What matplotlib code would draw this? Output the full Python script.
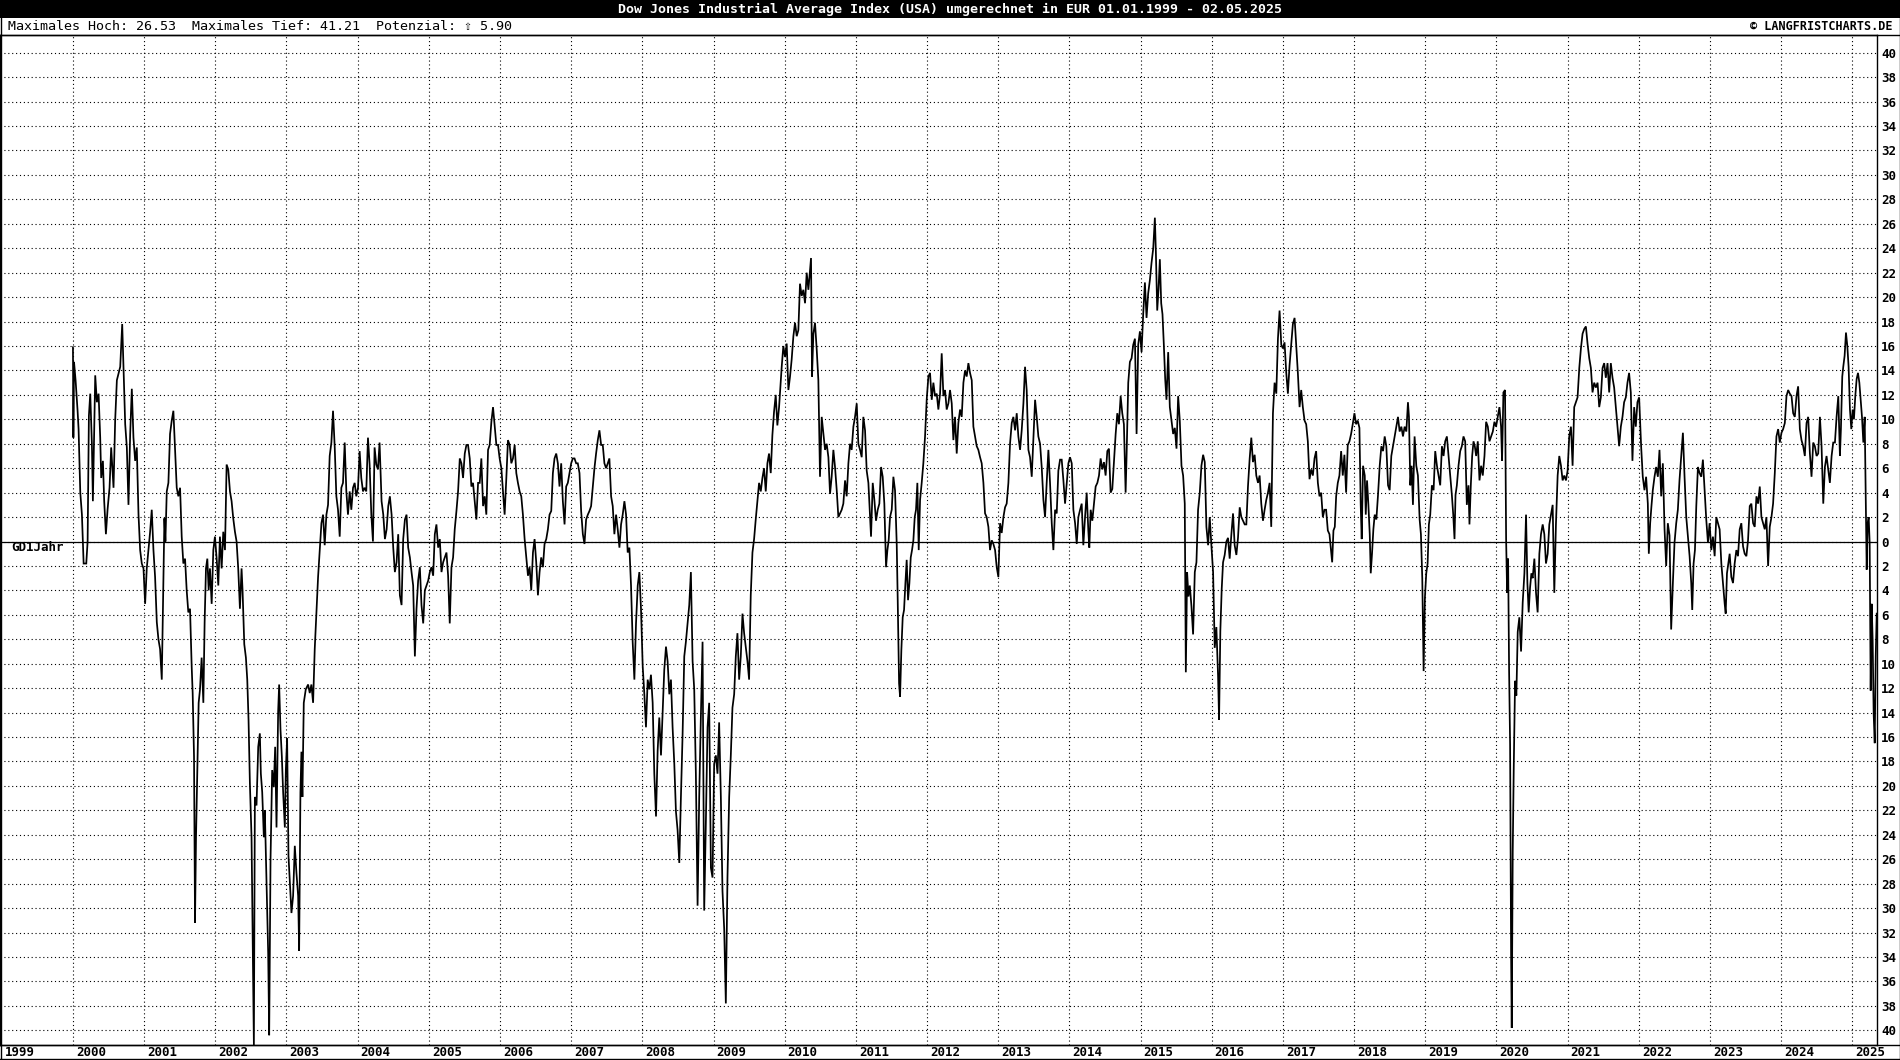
import numpy as np
import matplotlib
matplotlib.use('Agg')
import matplotlib.pyplot as plt
import matplotlib.transforms as mtransforms
from matplotlib.patches import Rectangle
from matplotlib.lines import Line2D

title = 'Dow Jones Industrial Average Index (USA) umgerechnet in EUR 01.01.1999 - 02.05.2025'
subtitle = 'Maximales Hoch: 26.53  Maximales Tief: 41.21  Potenzial: \u21e7 5.90'
copyright_txt = '\u00a9 LANGFRISTCHARTS.DE'
line_label = 'GD1Jahr'

years = list(range(1999, 2026))
y_ticks = list(range(-40, 41, 2))

# Abstand zum GD 1 Jahr in % (Jahr als Dezimalzahl, Wert)
gd_2000_01 = [
    (2000.000, 15.9), (2000.006, 8.5), (2000.015, 14.7), (2000.037, 13.2), (2000.065, 10.7),
    (2000.079, 9.2), (2000.103, 4.0), (2000.126, 2.2), (2000.150, -1.8), (2000.187, -1.8),
    (2000.206, 0.0), (2000.224, 10.3), (2000.243, 12.1), (2000.266, 8.0), (2000.280, 3.3),
    (2000.313, 13.6), (2000.336, 11.4), (2000.360, 12.1), (2000.383, 8.5), (2000.397, 5.2),
    (2000.421, 6.6), (2000.439, 3.3), (2000.463, 0.6), (2000.486, 2.6), (2000.514, 4.4),
    (2000.537, 7.7), (2000.570, 4.4), (2000.593, 9.9), (2000.617, 13.2), (2000.664, 14.3),
    (2000.692, 17.8), (2000.710, 14.3), (2000.734, 9.6), (2000.757, 7.7), (2000.780, 3.0),
    (2000.804, 8.8), (2000.827, 12.5), (2000.850, 8.5), (2000.874, 6.6), (2000.897, 7.7),
    (2000.921, 2.2), (2000.944, -0.7), (2000.967, -1.8), (2000.991, -2.2), (2001.014, -5.1),
    (2001.037, -2.2), (2001.061, -0.7), (2001.084, 0.8), (2001.107, 2.6), (2001.131, -0.7),
    (2001.154, -2.9), (2001.178, -6.6), (2001.201, -8.0), (2001.224, -8.8), (2001.248, -11.3),
    (2001.271, -2.9), (2001.285, 1.9), (2001.299, 0.0), (2001.318, 4.1), (2001.341, 4.8),
    (2001.364, 8.8), (2001.388, 9.9), (2001.411, 10.7), (2001.435, 7.4), (2001.458, 4.4),
    (2001.481, 3.7), (2001.505, 4.4), (2001.528, 0.4), (2001.551, -1.8), (2001.575, -1.4),
    (2001.598, -4.0), (2001.621, -5.8), (2001.645, -5.5), (2001.668, -10.2), (2001.682, -12.4),
    (2001.701, -17.6), (2001.715, -31.2), (2001.729, -24.2), (2001.748, -18.7), (2001.766, -13.2),
    (2001.785, -12.1), (2001.808, -9.5), (2001.832, -13.2), (2001.850, -6.6), (2001.869, -2.2),
    (2001.888, -1.4), (2001.907, -4.0), (2001.925, -2.2), (2001.949, -5.1), (2001.972, -0.7),
    (2001.995, 0.4),
]

gd_2002_03 = [
    (2002.019, -1.4), (2002.042, -3.6), (2002.065, 0.4), (2002.089, -2.2), (2002.112, 0.8),
    (2002.136, -0.7), (2002.159, 6.3), (2002.182, 5.9), (2002.206, 4.1), (2002.229, 3.3),
    (2002.252, 1.9), (2002.276, 0.8), (2002.299, 0.0), (2002.322, -2.2), (2002.346, -5.5),
    (2002.369, -2.2), (2002.383, -4.0), (2002.407, -8.4), (2002.430, -9.5), (2002.449, -11.3),
    (2002.467, -14.6), (2002.486, -19.8), (2002.509, -24.2), (2002.533, -37.0), (2002.542, -41.2),
    (2002.556, -20.9), (2002.579, -21.6), (2002.603, -16.8), (2002.626, -15.7), (2002.640, -19.0),
    (2002.659, -20.5), (2002.682, -24.2), (2002.696, -22.0), (2002.720, -27.9), (2002.743, -33.7),
    (2002.757, -40.4), (2002.776, -26.0), (2002.799, -18.7), (2002.822, -20.1), (2002.841, -16.8),
    (2002.860, -23.4), (2002.883, -13.9), (2002.897, -11.7), (2002.916, -15.4), (2002.935, -17.6),
    (2002.953, -20.5), (2002.977, -23.4), (2002.991, -18.7), (2003.009, -16.1), (2003.028, -25.7),
    (2003.047, -27.9), (2003.070, -30.4), (2003.093, -29.0), (2003.117, -24.9), (2003.140, -27.1),
    (2003.164, -29.0), (2003.178, -33.5), (2003.196, -20.5), (2003.210, -17.2), (2003.224, -20.9),
    (2003.243, -13.2), (2003.271, -12.1), (2003.304, -11.7), (2003.327, -12.4), (2003.350, -11.7),
    (2003.374, -13.2), (2003.397, -8.8), (2003.421, -5.8), (2003.444, -2.9), (2003.467, -0.7),
    (2003.491, 1.5), (2003.514, 2.2), (2003.537, -0.3), (2003.561, 2.2), (2003.584, 3.0),
    (2003.607, 7.0), (2003.631, 8.1), (2003.654, 10.7), (2003.678, 7.7), (2003.701, 3.7),
    (2003.724, 2.6), (2003.748, 0.4), (2003.771, 4.4), (2003.794, 4.8), (2003.818, 8.1),
    (2003.841, 4.1), (2003.864, 2.2), (2003.888, 4.1), (2003.911, 2.6), (2003.935, 4.4),
    (2003.958, 4.8), (2003.981, 3.7),
]

gd_2004_06 = [
    (2004.005, 4.4), (2004.028, 7.4), (2004.051, 5.2), (2004.075, 4.1), (2004.098, 4.4),
    (2004.121, 4.1), (2004.145, 8.5), (2004.168, 6.3), (2004.192, 2.2), (2004.215, 0.0),
    (2004.238, 7.7), (2004.262, 6.3), (2004.285, 5.9), (2004.308, 8.1), (2004.336, 3.3),
    (2004.360, 2.2), (2004.383, 0.2), (2004.407, 1.0), (2004.430, 2.9), (2004.453, 3.7),
    (2004.477, 2.2), (2004.500, -0.5), (2004.523, -2.5), (2004.547, -1.7), (2004.570, 0.6),
    (2004.593, -4.4), (2004.617, -5.2), (2004.640, 0.2), (2004.664, 1.8), (2004.687, 2.2),
    (2004.710, -0.5), (2004.734, -1.3), (2004.757, -2.5), (2004.780, -3.6), (2004.804, -9.4),
    (2004.827, -5.5), (2004.850, -3.2), (2004.874, -2.1), (2004.897, -5.2), (2004.921, -6.7),
    (2004.944, -4.0), (2004.967, -3.6), (2004.991, -3.2), (2005.014, -2.5), (2005.037, -2.1),
    (2005.061, -2.8), (2005.084, 0.6), (2005.107, 1.4), (2005.131, -0.5), (2005.154, 0.2),
    (2005.178, -2.5), (2005.201, -1.7), (2005.224, -1.3), (2005.248, -0.9), (2005.271, -2.8),
    (2005.294, -6.7), (2005.318, -2.1), (2005.341, -1.3), (2005.364, 1.0), (2005.388, 2.5),
    (2005.411, 4.1), (2005.435, 6.8), (2005.458, 6.4), (2005.481, 5.2), (2005.505, 7.2),
    (2005.528, 7.9), (2005.551, 7.9), (2005.575, 6.8), (2005.598, 4.5), (2005.621, 4.8),
    (2005.645, 3.3), (2005.668, 1.8), (2005.692, 4.8), (2005.715, 4.8), (2005.738, 6.8),
    (2005.762, 2.9), (2005.785, 3.7), (2005.808, 2.2), (2005.832, 7.5), (2005.855, 7.9),
    (2005.879, 9.8), (2005.902, 11.0), (2005.925, 9.5), (2005.949, 7.9), (2005.972, 7.9),
    (2005.995, 6.8), (2006.019, 6.0), (2006.042, 4.1), (2006.065, 2.2), (2006.089, 5.2),
    (2006.112, 8.3), (2006.136, 7.9), (2006.159, 6.4), (2006.182, 6.8), (2006.206, 7.9),
    (2006.229, 5.6), (2006.252, 4.8), (2006.276, 4.1), (2006.299, 3.7), (2006.322, 2.2),
    (2006.346, 0.2), (2006.369, -1.3), (2006.393, -2.8), (2006.416, -2.1), (2006.439, -4.0),
    (2006.463, -0.9), (2006.486, 0.2), (2006.509, -1.7), (2006.533, -4.4), (2006.556, -2.5),
    (2006.579, -1.3), (2006.603, -2.1), (2006.626, -0.2), (2006.650, 0.2), (2006.673, 1.0),
    (2006.696, 2.2), (2006.720, 2.5), (2006.743, 5.6), (2006.766, 6.8), (2006.790, 7.2),
    (2006.813, 6.4), (2006.836, 4.5), (2006.860, 6.4), (2006.883, 3.3), (2006.907, 1.4),
    (2006.930, 4.5), (2006.953, 4.8), (2006.977, 5.6),
]

gd_2007_09 = [
    (2007.000, 6.4), (2007.023, 6.8), (2007.047, 6.8), (2007.070, 6.4), (2007.093, 6.4),
    (2007.117, 5.6), (2007.140, 2.5), (2007.164, 0.6), (2007.187, -0.2), (2007.210, 1.8),
    (2007.234, 2.2), (2007.257, 2.5), (2007.280, 2.9), (2007.304, 4.5), (2007.327, 6.0),
    (2007.350, 7.2), (2007.374, 8.3), (2007.397, 9.1), (2007.421, 7.9), (2007.444, 7.9),
    (2007.467, 6.4), (2007.491, 6.0), (2007.514, 6.4), (2007.537, 6.8), (2007.561, 3.7),
    (2007.584, 2.9), (2007.607, 0.6), (2007.631, 2.2), (2007.654, 1.0), (2007.678, -0.5),
    (2007.701, 1.4), (2007.724, 2.2), (2007.748, 3.3), (2007.771, 2.2), (2007.794, -0.9),
    (2007.818, -0.5), (2007.841, -3.6), (2007.864, -8.2), (2007.888, -11.3), (2007.911, -6.7),
    (2007.935, -3.6), (2007.958, -2.5), (2007.981, -5.5), (2008.005, -10.2), (2008.028, -12.5),
    (2008.051, -15.2), (2008.075, -11.3), (2008.098, -12.1), (2008.121, -10.9), (2008.145, -13.2),
    (2008.168, -19.0), (2008.192, -22.5), (2008.215, -17.1), (2008.238, -14.4), (2008.262, -17.5),
    (2008.285, -14.0), (2008.308, -10.5), (2008.332, -8.6), (2008.355, -9.8), (2008.379, -12.5),
    (2008.402, -11.3), (2008.425, -15.2), (2008.449, -18.2), (2008.472, -22.1), (2008.495, -23.6),
    (2008.519, -26.3), (2008.542, -20.9), (2008.565, -15.9), (2008.589, -9.4), (2008.612, -8.2),
    (2008.636, -6.7), (2008.659, -5.2), (2008.682, -2.5), (2008.706, -9.8), (2008.729, -12.1),
    (2008.752, -19.0), (2008.776, -29.8), (2008.799, -20.9), (2008.822, -14.4), (2008.846, -8.2),
    (2008.869, -30.2), (2008.893, -22.8), (2008.916, -15.2), (2008.939, -13.2), (2008.963, -26.7),
    (2008.986, -27.5), (2009.009, -18.2), (2009.033, -17.5), (2009.056, -19.0), (2009.079, -14.8),
    (2009.103, -20.9), (2009.126, -28.6), (2009.150, -31.7), (2009.173, -37.8), (2009.196, -27.5),
    (2009.220, -20.9), (2009.243, -17.5), (2009.266, -13.6), (2009.290, -12.5), (2009.313, -9.4),
    (2009.336, -7.5), (2009.360, -11.3), (2009.383, -9.4), (2009.407, -5.9), (2009.430, -7.5),
    (2009.453, -8.6), (2009.477, -9.8), (2009.500, -11.3), (2009.523, -4.4), (2009.547, -0.9),
    (2009.570, 0.2), (2009.593, 1.8), (2009.617, 3.3), (2009.640, 4.8), (2009.664, 4.1),
    (2009.687, 5.2), (2009.710, 6.0), (2009.734, 4.1), (2009.757, 6.4), (2009.780, 7.2),
    (2009.804, 5.6), (2009.827, 8.7), (2009.850, 10.6), (2009.874, 12.0), (2009.897, 9.5),
    (2009.921, 11.0), (2009.958, 14.3), (2009.981, 16.0),
]

gd_2010_12 = [
    (2010.005, 15.1), (2010.028, 16.2), (2010.052, 12.4), (2010.075, 13.5), (2010.098, 14.9),
    (2010.122, 16.8), (2010.145, 17.9), (2010.169, 16.8), (2010.192, 17.3), (2010.215, 21.1),
    (2010.239, 20.1), (2010.262, 20.6), (2010.286, 19.5), (2010.309, 22.0), (2010.333, 20.6),
    (2010.356, 22.2), (2010.370, 23.2), (2010.384, 13.5), (2010.403, 17.0), (2010.426, 17.9),
    (2010.450, 15.7), (2010.473, 13.2), (2010.496, 5.3), (2010.520, 10.2), (2010.543, 8.9),
    (2010.567, 7.5), (2010.590, 8.0), (2010.614, 6.9), (2010.637, 3.9), (2010.660, 5.3),
    (2010.684, 7.5), (2010.707, 6.1), (2010.731, 4.2), (2010.754, 2.0), (2010.778, 2.3),
    (2010.801, 2.6), (2010.824, 3.1), (2010.848, 5.0), (2010.871, 3.7), (2010.895, 6.4),
    (2010.918, 8.0), (2010.941, 7.5), (2010.965, 9.4), (2010.988, 10.2), (2011.012, 11.3),
    (2011.035, 8.0), (2011.059, 7.5), (2011.082, 6.9), (2011.105, 10.2), (2011.129, 9.1),
    (2011.152, 5.8), (2011.176, 4.8), (2011.199, 2.0), (2011.213, 0.4), (2011.237, 4.8),
    (2011.260, 3.4), (2011.283, 1.7), (2011.307, 2.6), (2011.330, 3.1), (2011.354, 6.1),
    (2011.377, 5.3), (2011.400, 3.1), (2011.424, -2.1), (2011.443, -0.7), (2011.461, 0.1),
    (2011.480, 2.0), (2011.504, 2.6), (2011.527, 5.3), (2011.550, 4.2), (2011.574, -0.2),
    (2011.588, -4.8), (2011.607, -11.6), (2011.621, -12.7), (2011.639, -8.9), (2011.658, -6.2),
    (2011.677, -5.6), (2011.696, -3.4), (2011.714, -1.5), (2011.733, -4.8), (2011.752, -3.4),
    (2011.771, -1.3), (2011.789, -0.7), (2011.808, 0.1), (2011.827, 2.0), (2011.845, 2.6),
    (2011.864, 4.8), (2011.883, -0.7), (2011.902, 3.4), (2011.925, 4.8), (2011.948, 6.4),
    (2011.972, 8.6), (2011.995, 11.6), (2012.019, 13.5), (2012.042, 13.8), (2012.066, 11.6),
    (2012.089, 13.0), (2012.112, 11.9), (2012.136, 12.1), (2012.159, 10.8), (2012.183, 12.1),
    (2012.206, 15.4), (2012.230, 11.9), (2012.253, 12.4), (2012.276, 10.8), (2012.300, 11.3),
    (2012.323, 12.4), (2012.347, 11.3), (2012.370, 8.3), (2012.393, 10.2), (2012.417, 7.2),
    (2012.440, 9.7), (2012.464, 10.8), (2012.487, 10.2), (2012.511, 13.0), (2012.534, 14.0),
    (2012.557, 13.5), (2012.581, 14.6), (2012.604, 13.8), (2012.628, 13.2), (2012.651, 9.4),
    (2012.674, 8.6), (2012.698, 7.8), (2012.721, 7.5), (2012.745, 6.9), (2012.768, 6.4),
    (2012.792, 4.8), (2012.815, 2.3), (2012.838, 2.0), (2012.862, 1.2), (2012.885, -0.7),
    (2012.909, 0.1), (2012.932, -0.2), (2012.956, -0.7), (2012.979, -2.1),
]

gd_2013_15 = [
    (2013.002, -2.9), (2013.026, 1.5), (2013.049, 0.7), (2013.073, 2.0), (2013.096, 2.8),
    (2013.119, 3.1), (2013.143, 4.8), (2013.166, 8.0), (2013.190, 9.7), (2013.213, 10.2),
    (2013.237, 9.1), (2013.260, 10.5), (2013.283, 8.6), (2013.307, 7.5), (2013.330, 9.1),
    (2013.354, 11.3), (2013.377, 14.3), (2013.400, 12.4), (2013.424, 7.5), (2013.447, 6.9),
    (2013.471, 5.3), (2013.494, 8.3), (2013.518, 11.6), (2013.541, 10.2), (2013.564, 8.6),
    (2013.588, 8.0), (2013.611, 6.1), (2013.635, 3.4), (2013.658, 2.0), (2013.681, 4.8),
    (2013.705, 7.5), (2013.728, 4.8), (2013.752, 1.5), (2013.775, -0.7), (2013.799, 2.6),
    (2013.822, 2.3), (2013.845, 5.8), (2013.869, 6.7), (2013.892, 6.7), (2013.916, 5.0),
    (2013.939, 3.1), (2013.963, 4.8), (2013.986, 6.4), (2014.009, 6.9), (2014.033, 6.4),
    (2014.056, 2.6), (2014.080, 1.5), (2014.103, -0.2), (2014.126, 2.0), (2014.150, 2.6),
    (2014.173, 3.1), (2014.196, -0.3), (2014.220, 2.0), (2014.243, 4.0), (2014.266, 0.9),
    (2014.280, -0.5), (2014.299, 2.6), (2014.322, 1.7), (2014.346, 3.1), (2014.369, 4.5),
    (2014.393, 4.8), (2014.416, 5.4), (2014.439, 6.8), (2014.463, 5.9), (2014.486, 6.5),
    (2014.509, 5.4), (2014.533, 7.4), (2014.556, 7.6), (2014.579, 4.0), (2014.603, 4.3),
    (2014.626, 6.5), (2014.650, 8.8), (2014.673, 10.5), (2014.696, 9.6), (2014.720, 11.9),
    (2014.743, 10.5), (2014.766, 9.6), (2014.790, 4.0), (2014.804, 7.1), (2014.827, 13.0),
    (2014.850, 14.7), (2014.874, 15.0), (2014.897, 16.1), (2014.921, 16.6), (2014.944, 8.8),
    (2014.967, 16.1), (2014.991, 17.2), (2015.014, 15.5), (2015.037, 18.6), (2015.061, 21.2),
    (2015.084, 18.3), (2015.107, 20.3), (2015.131, 21.4), (2015.154, 22.8), (2015.178, 24.0),
    (2015.201, 26.5), (2015.215, 23.7), (2015.234, 18.9), (2015.252, 20.6), (2015.271, 23.1),
    (2015.290, 19.5), (2015.308, 18.6), (2015.327, 16.1), (2015.346, 13.3), (2015.364, 11.6),
    (2015.388, 15.5), (2015.411, 11.0), (2015.435, 9.9), (2015.458, 8.8), (2015.481, 9.3),
    (2015.505, 7.6), (2015.528, 11.9), (2015.551, 9.9), (2015.575, 6.2), (2015.598, 5.4),
    (2015.621, 3.1), (2015.636, -10.7), (2015.654, -2.5), (2015.673, -4.5), (2015.692, -3.6),
    (2015.715, -5.3), (2015.738, -7.6), (2015.762, -2.5), (2015.785, -1.7), (2015.808, 2.6),
    (2015.832, 4.0), (2015.855, 6.2), (2015.879, 7.1), (2015.902, 6.5), (2015.925, 1.2),
    (2015.949, -0.3), (2015.972, 2.0), (2015.995, -0.3),
]

gd_2016_18 = [
    (2016.019, -2.5), (2016.042, -8.7), (2016.065, -7.0), (2016.089, -11.0), (2016.103, -14.6),
    (2016.121, -7.3), (2016.140, -3.9), (2016.159, -1.7), (2016.182, -1.1), (2016.206, 0.0),
    (2016.229, 0.3), (2016.252, -1.4), (2016.276, 0.6), (2016.299, 2.3), (2016.322, -0.3),
    (2016.346, -1.1), (2016.369, 0.3), (2016.393, 2.8), (2016.416, 2.0), (2016.439, 1.7),
    (2016.463, 1.4), (2016.486, 1.4), (2016.509, 4.5), (2016.533, 6.8), (2016.556, 8.5),
    (2016.579, 6.5), (2016.603, 7.1), (2016.626, 5.4), (2016.650, 4.8), (2016.673, 5.4),
    (2016.696, 3.1), (2016.720, 1.7), (2016.743, 2.6), (2016.766, 3.4), (2016.790, 4.0),
    (2016.813, 4.8), (2016.836, 1.2), (2016.860, 10.5), (2016.883, 13.0), (2016.907, 12.1),
    (2016.930, 16.6), (2016.953, 18.9), (2016.977, 16.1), (2017.000, 15.8), (2017.023, 16.3),
    (2017.047, 13.8), (2017.070, 12.1), (2017.093, 14.4), (2017.117, 16.1), (2017.140, 17.8),
    (2017.164, 18.3), (2017.187, 16.1), (2017.210, 13.8), (2017.234, 11.0), (2017.257, 12.4),
    (2017.280, 11.0), (2017.304, 9.9), (2017.327, 9.6), (2017.350, 8.2), (2017.374, 5.1),
    (2017.397, 5.9), (2017.421, 5.4), (2017.444, 6.8), (2017.467, 7.4), (2017.491, 4.8),
    (2017.514, 3.7), (2017.537, 4.0), (2017.561, 2.0), (2017.584, 2.6), (2017.607, 2.6),
    (2017.631, 0.9), (2017.654, 0.6), (2017.678, -0.8), (2017.692, -1.7), (2017.710, 0.9),
    (2017.729, 1.2), (2017.748, 3.7), (2017.771, 4.8), (2017.794, 5.4), (2017.818, 7.4),
    (2017.841, 5.4), (2017.864, 7.1), (2017.888, 4.0), (2017.911, 7.9), (2017.935, 8.2),
    (2017.958, 8.8), (2017.981, 9.6), (2018.005, 10.5), (2018.028, 9.6), (2018.051, 9.9),
    (2018.075, 9.3), (2018.093, 3.0), (2018.107, 0.2), (2018.126, 6.2), (2018.150, 5.4),
    (2018.164, 2.2), (2018.182, 5.0), (2018.201, 3.0), (2018.220, 0.6), (2018.234, -2.6),
    (2018.252, -1.0), (2018.271, 1.0), (2018.290, 2.2), (2018.313, 1.8), (2018.336, 3.8),
    (2018.360, 6.2), (2018.383, 7.8), (2018.407, 7.4), (2018.430, 8.6), (2018.453, 7.8),
    (2018.477, 4.6), (2018.500, 4.2), (2018.523, 7.0), (2018.547, 7.8), (2018.570, 8.6),
    (2018.593, 9.4), (2018.617, 10.2), (2018.640, 9.0), (2018.664, 9.4), (2018.687, 8.6),
    (2018.710, 9.4), (2018.734, 9.0), (2018.757, 11.4), (2018.771, 10.2), (2018.790, 4.6),
    (2018.808, 6.2), (2018.827, 3.0), (2018.850, 8.6), (2018.874, 6.2), (2018.897, 5.4),
    (2018.921, 1.8), (2018.939, 0.6), (2018.958, -3.0), (2018.977, -10.6), (2018.995, -4.6),
]

gd_2019_21 = [
    (2019.014, -2.6), (2019.033, -1.8), (2019.051, 1.4), (2019.070, 2.2), (2019.093, 4.6),
    (2019.117, 4.2), (2019.140, 7.4), (2019.164, 6.2), (2019.187, 5.4), (2019.210, 4.6),
    (2019.234, 7.8), (2019.257, 7.0), (2019.280, 8.2), (2019.304, 8.6), (2019.327, 7.0),
    (2019.350, 5.4), (2019.374, 3.8), (2019.393, 2.2), (2019.411, 0.2), (2019.425, 3.8),
    (2019.444, 4.6), (2019.467, 6.2), (2019.491, 7.4), (2019.514, 7.8), (2019.537, 8.6),
    (2019.561, 8.2), (2019.584, 3.0), (2019.607, 4.6), (2019.621, 1.4), (2019.640, 4.6),
    (2019.659, 7.0), (2019.678, 8.2), (2019.696, 7.8), (2019.715, 7.0), (2019.738, 8.2),
    (2019.762, 5.0), (2019.785, 6.2), (2019.808, 5.4), (2019.832, 7.0), (2019.855, 9.8),
    (2019.879, 9.4), (2019.902, 8.2), (2019.925, 8.6), (2019.949, 9.0), (2019.972, 9.8),
    (2019.995, 9.4), (2020.019, 10.2), (2020.042, 11.0), (2020.065, 9.4), (2020.079, 6.6),
    (2020.098, 12.2), (2020.121, 12.4), (2020.136, 0.2), (2020.150, -4.2), (2020.164, -1.4),
    (2020.178, -10.6), (2020.192, -16.6), (2020.206, -33.8), (2020.215, -39.8), (2020.229, -25.4),
    (2020.243, -18.6), (2020.262, -11.4), (2020.280, -12.6), (2020.299, -7.4), (2020.322, -6.2),
    (2020.346, -9.0), (2020.369, -5.0), (2020.393, -2.6), (2020.416, 2.2), (2020.435, -3.4),
    (2020.453, -5.8), (2020.472, -3.8), (2020.491, -2.6), (2020.509, -3.0), (2020.533, -1.4),
    (2020.556, -4.2), (2020.579, -5.8), (2020.603, -1.0), (2020.626, 0.6), (2020.650, 1.4),
    (2020.673, 0.6), (2020.696, -1.8), (2020.720, -1.0), (2020.743, 1.4), (2020.766, 2.2),
    (2020.790, 3.0), (2020.813, -4.2), (2020.836, 1.4), (2020.860, 5.4), (2020.883, 7.0),
    (2020.907, 6.2), (2020.930, 5.0), (2020.953, 5.4), (2020.977, 5.0), (2021.000, 5.8),
    (2021.023, 8.6), (2021.047, 9.4), (2021.070, 6.2), (2021.093, 11.0), (2021.117, 11.4),
    (2021.140, 11.8), (2021.164, 14.2), (2021.187, 15.8), (2021.210, 17.0), (2021.234, 17.4),
    (2021.257, 17.6), (2021.280, 16.2), (2021.304, 15.0), (2021.327, 14.2), (2021.350, 12.2),
    (2021.374, 13.0), (2021.397, 12.6), (2021.421, 13.0), (2021.444, 11.0), (2021.467, 11.8),
    (2021.491, 14.2), (2021.514, 14.6), (2021.537, 13.4), (2021.561, 14.6), (2021.584, 12.2),
    (2021.607, 14.6), (2021.631, 13.4), (2021.654, 12.6), (2021.678, 11.0), (2021.701, 9.4),
    (2021.724, 7.8), (2021.748, 9.4), (2021.771, 10.2), (2021.794, 11.4), (2021.818, 11.8),
    (2021.841, 13.0), (2021.864, 13.8), (2021.888, 12.2), (2021.911, 6.6), (2021.935, 11.0),
    (2021.958, 9.4), (2021.981, 11.4),
]

gd_2022_25 = [
    (2022.005, 11.8), (2022.033, 7.8), (2022.056, 5.3), (2022.080, 4.2), (2022.103, 5.3),
    (2022.127, 3.1), (2022.141, -1.0), (2022.160, 1.5), (2022.178, 2.9), (2022.197, 4.2),
    (2022.221, 5.3), (2022.244, 6.1), (2022.268, 5.3), (2022.291, 7.5), (2022.315, 3.7),
    (2022.338, 6.4), (2022.362, 1.0), (2022.385, -2.0), (2022.408, 1.5), (2022.432, 0.5),
    (2022.455, -7.2), (2022.479, -3.4), (2022.502, -0.1), (2022.526, 1.5), (2022.549, 2.6),
    (2022.573, 5.1), (2022.596, 7.0), (2022.620, 8.9), (2022.643, 5.3), (2022.667, 2.0),
    (2022.690, 0.4), (2022.714, -1.2), (2022.737, -3.4), (2022.751, -5.6), (2022.770, -1.8),
    (2022.789, -0.7), (2022.808, 2.9), (2022.831, 6.1), (2022.854, 5.6), (2022.878, 5.3),
    (2022.901, 6.7), (2022.925, 4.2), (2022.948, 1.8), (2022.972, -0.1), (2022.995, 1.5),
    (2023.019, -0.7), (2023.042, 0.4), (2023.066, -1.2), (2023.089, 2.0), (2023.113, 1.5),
    (2023.136, 1.0), (2023.160, -1.8), (2023.183, -3.4), (2023.207, -5.1), (2023.221, -5.9),
    (2023.239, -2.6), (2023.258, -1.8), (2023.277, -1.0), (2023.300, -2.9), (2023.324, -3.4),
    (2023.347, -1.8), (2023.371, -0.7), (2023.394, -1.2), (2023.418, 1.0), (2023.441, 1.5),
    (2023.465, -0.4), (2023.488, -1.0), (2023.512, -1.2), (2023.535, 0.1), (2023.559, 2.9),
    (2023.582, 3.1), (2023.606, 1.5), (2023.629, 1.2), (2023.653, 3.7), (2023.676, 3.1),
    (2023.700, 4.5), (2023.723, 2.0), (2023.746, 1.5), (2023.770, 1.0), (2023.793, 2.0),
    (2023.817, -2.0), (2023.840, 1.2), (2023.864, 2.0), (2023.887, 3.1), (2023.911, 5.6),
    (2023.934, 8.6), (2023.958, 9.2), (2023.981, 8.1), (2024.005, 8.9), (2024.028, 9.2),
    (2024.052, 9.7), (2024.075, 11.9), (2024.099, 12.4), (2024.122, 12.1), (2024.146, 11.9),
    (2024.169, 10.5), (2024.192, 10.2), (2024.216, 11.9), (2024.239, 12.7), (2024.263, 9.2),
    (2024.286, 8.3), (2024.310, 7.8), (2024.333, 7.0), (2024.357, 9.7), (2024.380, 10.2),
    (2024.404, 7.2), (2024.427, 5.3), (2024.451, 8.1), (2024.474, 7.8), (2024.498, 7.0),
    (2024.521, 7.2), (2024.545, 10.2), (2024.568, 7.8), (2024.592, 3.1), (2024.615, 6.1),
    (2024.638, 7.0), (2024.662, 5.9), (2024.685, 4.8), (2024.709, 7.0), (2024.732, 8.1),
    (2024.756, 8.1), (2024.779, 10.2), (2024.803, 11.9), (2024.826, 7.0), (2024.840, 9.2),
    (2024.859, 13.5), (2024.873, 14.3), (2024.892, 15.2), (2024.911, 17.1), (2024.930, 16.0),
    (2024.948, 14.3), (2024.967, 10.8), (2024.986, 9.2), (2025.005, 10.8), (2025.023, 10.0),
    (2025.042, 11.9), (2025.061, 13.3), (2025.080, 13.8), (2025.099, 13.0), (2025.117, 11.6),
    (2025.136, 10.2), (2025.155, 8.1), (2025.174, 10.2), (2025.188, 4.2), (2025.202, -2.3),
    (2025.216, 1.5), (2025.230, 2.0), (2025.244, -0.1), (2025.258, -12.2), (2025.272, -5.1),
    (2025.286, -8.1), (2025.300, -14.1), (2025.315, -16.5), (2025.329, -9.4), (2025.343, -5.9),
]

segments = [gd_2000_01, gd_2002_03, gd_2004_06, gd_2007_09, gd_2010_12,
            gd_2013_15, gd_2016_18, gd_2019_21, gd_2022_25]
pts = [p for seg in segments for p in seg]
t = np.array([p[0] for p in pts])
v = np.array([p[1] for p in pts])

W, H = 1900, 1060
mono = ['DejaVu Sans Mono', 'DejaVu Sans']

fig = plt.figure(figsize=(W / 100, H / 100), dpi=100)
fig.patch.set_facecolor('white')

# Plotbereich: x 0..1877 px, y 35..1045 px
ax = fig.add_axes([0 / W, (H - 1045) / H, 1877 / W, (1045 - 35) / H])
ax.set_xlim(1998.975, 2025.347)
ax.set_ylim(-41.2, 41.45)

ax.plot(t, v, color='black', lw=1.25, solid_joinstyle='miter', zorder=3)
ax.axhline(0, color='black', lw=0.9, zorder=2)

ax.set_xticks(years[1:])
ax.set_xticklabels([])
ax.set_yticks(y_ticks)
ax.set_yticklabels([str(abs(y)) for y in y_ticks], family=mono,
                   fontweight='bold', fontsize=9)
ax.yaxis.tick_right()
ax.tick_params(axis='both', length=0)
ax.tick_params(axis='y', pad=3)
ax.grid(True, color='black', lw=0.8, linestyle=(0, (1, 2.5)))
ax.set_axisbelow(True)
for s in ax.spines.values():
    s.set_linewidth(1.0)

# Jahreszahlen unter der Achse
trans = mtransforms.blended_transform_factory(ax.transData, ax.transAxes)
off = mtransforms.ScaledTranslation(3 / 100, 0, fig.dpi_scale_trans)
for yr in years:
    ax.text(yr, -7 / 1010, str(yr), transform=trans + off, ha='left', va='center',
            family=mono, fontweight='bold', fontsize=9, clip_on=False)

ax.text(1999.13, -0.5, line_label, family=mono, fontweight='bold', fontsize=9,
        ha='left', va='center')

# Kopfzeile
fig.patches.append(Rectangle((0, 1 - 18 / H), 1, 18 / H, transform=fig.transFigure,
                             facecolor='black', edgecolor='none'))
fig.text(0.5, 1 - 9 / H, title, color='white', ha='center', va='center',
         family=mono, fontweight='bold', fontsize=9.5)
fig.text(8 / W, 1 - 27 / H, subtitle, ha='left', va='center', family=mono, fontsize=9.6)
fig.text(1893 / W, 1 - 27 / H, copyright_txt, ha='right', va='center', family=mono,
         fontweight='bold', fontsize=8.5)

# Rahmenlinien
for yy in (35, 1045, 1059):
    fig.lines.append(Line2D([0, 1], [1 - yy / H, 1 - yy / H], transform=fig.transFigure,
                            color='black', lw=1.0))
for xx in (0.5, 1899.5):
    fig.lines.append(Line2D([xx / W, xx / W], [1 - 1059 / H, 1 - 18 / H],
                            transform=fig.transFigure, color='black', lw=1.0))

fig.savefig('out.png', dpi=100)
